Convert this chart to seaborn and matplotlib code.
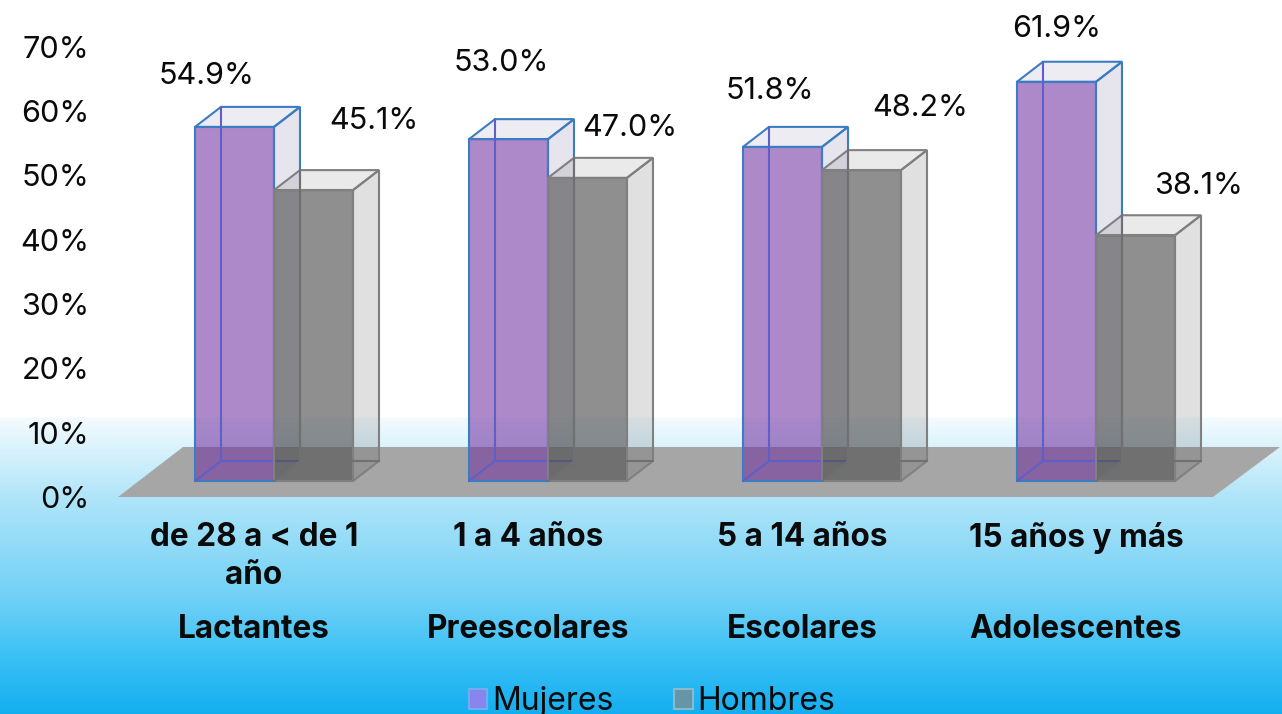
import matplotlib
matplotlib.use('Agg')
import matplotlib.pyplot as plt
from matplotlib.colors import LinearSegmentedColormap, to_rgba
from matplotlib.patches import Patch, Polygon
import numpy as np
import pandas as pd
import seaborn as sns

rangos = ['de 28 a < de 1\naño', '1 a 4 años', '5 a 14 años', '15 años y más']
grupos = ['Lactantes', 'Preescolares', 'Escolares', 'Adolescentes']
mujeres = [54.9, 53.0, 51.8, 61.9]
hombres = [45.1, 47.0, 48.2, 38.1]
series = ['Mujeres', 'Hombres']
yticks = [0, 10, 20, 30, 40, 50, 60, 70]

# label offsets from the top centre of each bar, in pixels
label_dx = [[-28, -7, -13, 0], [60, 42, 59, 63]]
label_dy = [[51, 76, 56, 53], [69, 50, 62, 49]]

sns.set_style('white')
plt.rcParams['font.family'] = ['Inter', 'DejaVu Sans']
plt.rcParams['text.color'] = '#0a0a0a'
plt.rcParams['xtick.color'] = '#0a0a0a'
plt.rcParams['ytick.color'] = '#0a0a0a'

W, H = 1282, 714
BASE = 481      # front of the bars
FLOOR = 497     # where 0% sits
LEFT = 90
CAT_PX = 274
PX_PER = 6.45
DX = 26 / CAT_PX
DY = 20 / PX_PER


def xd(px):
    return (px - CAT_PX) / CAT_PX


def yd(py):
    return (BASE - py) / PX_PER


fig = plt.figure(figsize=(W / 100, H / 100), dpi=100)

# background gradient
bg = fig.add_axes([0, 0, 1, 1], zorder=-1)
stops = [(0, '#ffffff'), (417 / H, '#ffffff'), (418 / H, '#f4fbfe'), (FLOOR / H, '#b0e5f9'),
         (600 / H, '#6fd0f5'), (660 / H, '#38c0f5'), (1, '#14aef0')]
cmap = LinearSegmentedColormap.from_list('fondo', stops, N=714)
bg.imshow(np.linspace(0, 1, H).reshape(-1, 1), cmap=cmap, aspect='auto', vmin=0, vmax=1)
bg.axis('off')

ax = fig.add_axes([LEFT / W, (H - FLOOR) / H, (W - LEFT) / W, FLOOR / H])
ax.patch.set_alpha(0)

df = pd.DataFrame({
    'rango': rangos * 2,
    'sexo': [series[0]] * 4 + [series[1]] * 4,
    'pct': mujeres + hombres,
})
sns.barplot(data=df, x='rango', y='pct', hue='sexo', order=rangos, hue_order=series,
            palette=['#7030a0', '#535353'], width=158 / CAT_PX, gap=0, legend=False,
            saturation=1, ax=ax)

ax.add_patch(Polygon([(xd(118), yd(FLOOR)), (xd(1213), yd(FLOOR)), (xd(1280), yd(447)), (xd(183), yd(447))],
                     closed=True, facecolor='#a6a6a6', edgecolor='none', zorder=0.5))

styles = [('#7030a0', '#5a4a8a', '#3b7dc2', '#5f5fc8', 0.57), ('#535353', '#353535', '#808080', '#707070', 0.65)]
for s, cont in enumerate(ax.containers):
    fill, side, edge, back, alpha = styles[s]
    for i, bar in enumerate(cont):
        x0, w, top = bar.get_x(), bar.get_width(), bar.get_height()
        x1 = x0 + w
        z = 2 + s
        bar.set_facecolor(to_rgba(fill, alpha))
        bar.set_edgecolor(edge)
        bar.set_linewidth(1.5)
        bar.set_zorder(z + 0.5)
        # top and side faces
        ax.add_patch(Polygon([(x0, top), (x1, top), (x1 + DX, top + DY), (x0 + DX, top + DY)],
                             facecolor=to_rgba(side, 0.1), edgecolor=edge, lw=1.5, zorder=z))
        ax.add_patch(Polygon([(x1, 0), (x1 + DX, DY), (x1 + DX, top + DY), (x1, top)],
                             facecolor=to_rgba(side, 0.15), edgecolor=edge, lw=1.5, zorder=z))
        # hidden back edges
        ax.plot([x0 + DX, x0 + DX], [DY, top + DY], color=back, lw=1.5, zorder=z + 0.6)
        ax.plot([x0, x0 + DX, x1 + DX], [0, DY, DY], color=back, lw=1.5, zorder=z + 0.6)
        ax.annotate(f'{bar.get_height():.1f}%', (x0 + w / 2, top), xytext=(label_dx[s][i] * 0.72, label_dy[s][i] * 0.72),
                    textcoords='offset points', ha='center', va='center', fontsize=22, zorder=10)

ax.set_xlim(xd(LEFT), xd(W))
ax.set_ylim(yd(FLOOR), yd(0))
ax.set_xlabel('')
ax.set_ylabel('')
ax.set_yticks([])
ax.set_xticks(np.arange(4) - 20 / CAT_PX, rangos, fontsize=22.7, fontweight='bold', linespacing=1.28)
ax.tick_params(axis='x', length=0, pad=18)
for i, g in enumerate(grupos):
    ax.annotate(g, (i - 20 / CAT_PX, H - 630), xycoords=('data', 'figure pixels'),
                ha='center', va='center', fontsize=22.7, fontweight='bold')
sns.despine(ax=ax, left=True, bottom=True)

# percent axis has its own zero, in front of the floor
ax_y = ax.twinx()
ax_y.patch.set_alpha(0)
ax_y.yaxis.tick_left()
ax_y.set_ylim(0, FLOOR / 6.43)
ax_y.set_yticks(yticks, [f'{t}%' for t in yticks], fontsize=22)
ax_y.tick_params(axis='y', length=0, pad=0.5)
sns.despine(ax=ax_y, left=True, bottom=True, right=True, top=True)

handles = [Patch(facecolor='#8a85ee', edgecolor='#6cb0ee', lw=1.5, label=series[0]),
           Patch(facecolor='#6596a8', edgecolor='#8ab8cc', lw=1.5, label=series[1])]
fig.legend(handles=handles, loc='lower center', bbox_to_anchor=(652 / W, -0.004), ncol=2, frameon=False,
           fontsize=23, handlelength=0.58, handleheight=0.58, handletextpad=0.15, columnspacing=1.9,
           borderpad=0, borderaxespad=0)

fig.savefig('out.png', dpi=100)
